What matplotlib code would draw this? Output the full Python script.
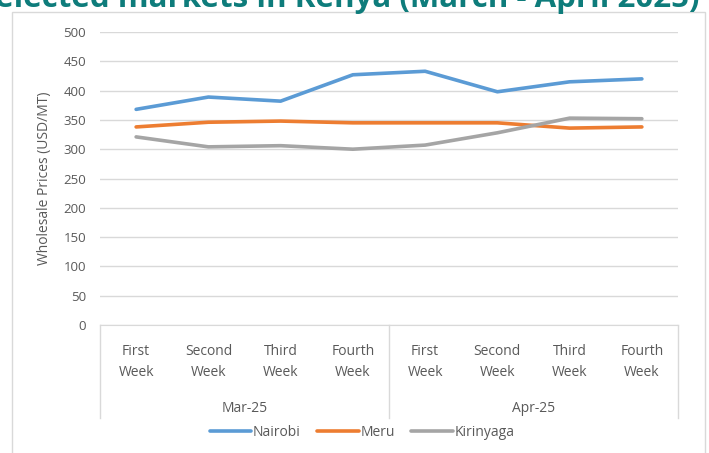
import matplotlib
matplotlib.use("Agg")
import matplotlib.pyplot as plt
from matplotlib.patches import Rectangle
import matplotlib.transforms as mtrans

weeks = ["First\nWeek", "Second\nWeek", "Third\nWeek", "Fourth\nWeek",
         "First\nWeek", "Second\nWeek", "Third\nWeek", "Fourth\nWeek"]
months = ["Mar-25", "Apr-25"]
nairobi = [368, 389, 382, 427, 433, 398, 415, 420]
meru = [338, 346, 348, 345, 345, 345, 336, 338]
kirinyaga = [321, 304, 306, 300, 307, 328, 353, 352]
yticks = [0, 50, 100, 150, 200, 250, 300, 350, 400, 450, 500]

plt.rcParams['font.family'] = ['Open Sans', 'DejaVu Sans']
txt = '#595959'
W, H = 709, 453
fig = plt.figure(figsize=(W / 100, H / 100), dpi=100)

# outer chart border
fig.patches.append(Rectangle((12 / W, -0.02), (705 - 12) / W, 1 - 12 / H + 0.02,
                             transform=fig.transFigure, fill=False,
                             edgecolor='#d9d9d9', linewidth=1.0))
# title (cut off at the top, as in the reference)
fig.text(700 / W, 1 - 7 / H, "Selected markets in Kenya (March - April 2025)",
         ha='right', va='baseline', fontsize=22.5, fontweight='bold', color='#0E7C7B')

ax = fig.add_axes([100 / W, 1 - 325 / H, (678 - 100) / W, (325 - 32) / H])
x = list(range(len(weeks)))
ax.plot(x, nairobi, color='#5B9BD5', lw=2.6, label='Nairobi', solid_capstyle='round')
ax.plot(x, meru, color='#ED7D31', lw=2.6, label='Meru', solid_capstyle='round')
ax.plot(x, kirinyaga, color='#A5A5A5', lw=2.6, label='Kirinyaga', solid_capstyle='round')

ax.set_xlim(-0.5, len(weeks) - 0.5)
ax.set_ylim(0, 500)
ax.set_yticks(yticks)
ax.set_yticklabels([str(v) for v in yticks], fontsize=9.5, color=txt)
ax.yaxis.grid(True, color='#d9d9d9', lw=1)
ax.set_axisbelow(True)
for s in ['top', 'right', 'left']:
    ax.spines[s].set_visible(False)
ax.spines['bottom'].set_color('#d9d9d9')
ax.tick_params(axis='y', length=0, pad=10)
ax.tick_params(axis='x', length=0, pad=14)
ax.set_xticks(x)
ax.set_xticklabels(weeks, fontsize=10, color=txt, linespacing=1.5)
ax.set_ylabel("Wholesale Prices (USD/MT)", fontsize=10, color=txt, labelpad=8)

# multi-level category axis lines
tr = mtrans.blended_transform_factory(ax.transData, ax.transAxes)
depth = -(418 - 325) / (325 - 32)
for xv in [-0.5, 3.5, 7.5]:
    ax.plot([xv, xv], [0, depth], transform=tr, color='#d9d9d9', lw=1, clip_on=False)
for i, m in enumerate(months):
    ax.text(i * 4 + 1.5, -(408 - 325) / (325 - 32), m, transform=tr, ha='center',
            va='center', fontsize=10, color=txt)

leg = fig.legend(loc='center', bbox_to_anchor=(362 / W, 1 - 432 / H), ncol=3,
                 frameon=False, fontsize=10, handlelength=3.0, handletextpad=0.1,
                 columnspacing=1.2, labelcolor=txt)

fig.savefig('out.png', dpi=100)
